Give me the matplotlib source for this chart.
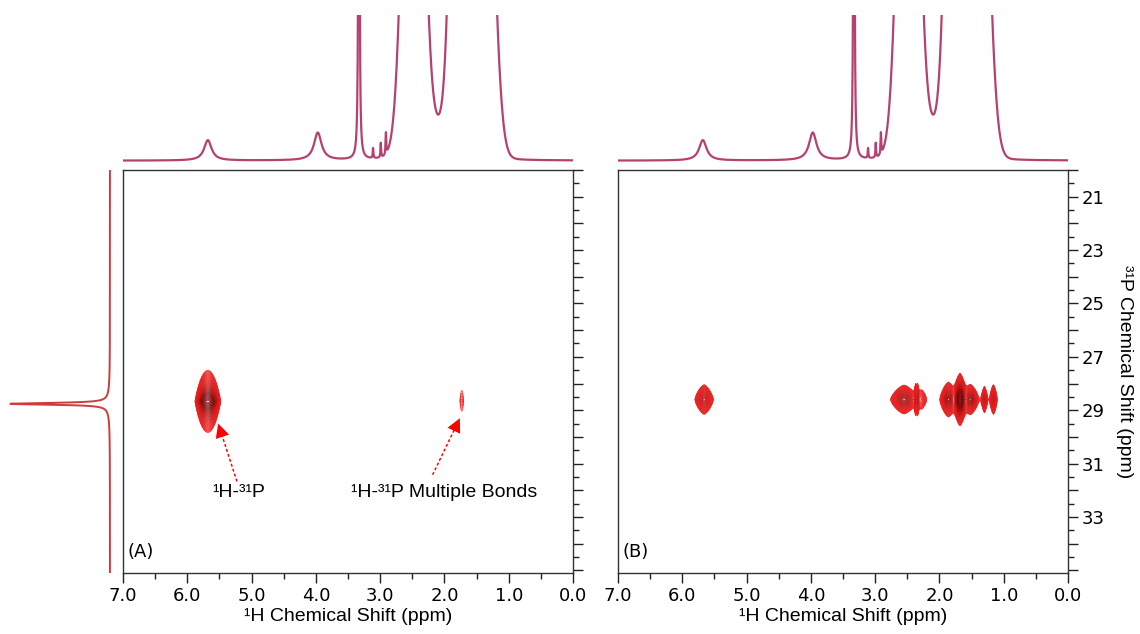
import numpy as np
import matplotlib
matplotlib.use('Agg')
import matplotlib.pyplot as plt
from matplotlib.colors import LinearSegmentedColormap
from matplotlib.ticker import MultipleLocator, FixedLocator

# 1H projection: peak position (ppm), height, half-width, lorentzian fraction
h1_pos = [5.68, 3.97, 3.33, 3.11, 2.99, 2.91, 2.48, 2.07, 1.80, 1.55, 1.35]
h1_height = [0.14, 0.19, 8.0, 0.07, 0.10, 0.15, 4.5, 0.17, 3.0, 4.0, 2.0]
h1_width = [0.07, 0.07, 0.006, 0.006, 0.006, 0.006, 0.133, 0.12, 0.10, 0.15, 0.127]
h1_eta = [1.0, 1.0, 1.0, 1.0, 1.0, 1.0, 0.05, 0.0, 0.05, 0.0, 0.05]

# 31P projection
p31_pos = [28.76, 28.76]
p31_height = [0.96, 0.02]
p31_width = [0.04, 0.5]

# 2D peaks (A): 1H ppm, 31P ppm, widths, height
a_h = [5.68, 1.73]
a_p = [28.67, 28.65]
a_wx = [0.103, 0.052]
a_wy = [0.345, 1.04]
a_amp = [2.26, 0.07]

# 2D peaks (B)
b_h = [5.66, 2.55, 2.37, 2.34, 2.28, 1.86, 1.68, 1.52, 1.30, 1.16]
b_p = [28.6, 28.6, 28.6, 28.6, 28.6, 28.6, 28.6, 28.6, 28.6, 28.6]
b_wx = [0.078, 0.10, 0.016, 0.016, 0.073, 0.064, 0.045, 0.065, 0.032, 0.038]
b_wy = [0.30, 0.256, 0.43, 0.43, 0.32, 0.31, 0.38, 0.27, 0.31, 0.35]
b_amp = [0.54, 0.87, 0.21, 0.21, 0.16, 0.87, 2.26, 0.87, 0.34, 0.34]

x_ticks = [7.0, 6.0, 5.0, 4.0, 3.0, 2.0, 1.0, 0.0]
y_ticks = [21, 23, 25, 27, 29, 31, 33]


def pvoigt(x, x0, h, w, eta):
    lor = 1.0 / (1.0 + ((x - x0) / w) ** 2)
    gau = np.exp(-((x - x0) ** 2) / (2 * w ** 2))
    return h * (eta * lor + (1 - eta) * gau)


def peak2d(X, Y, x0, y0, wx, wy, amp, px, py):
    u = np.abs(X - x0) / wx
    v = np.abs(Y - y0) / wy
    return amp * np.exp(-(u ** px + v ** py))


plt.rcParams['font.family'] = 'DejaVu Sans'
W, H = 1140, 634
fig = plt.figure(figsize=(W / 100, H / 100), dpi=100)

def box(x0, y0, x1, y1):
    return [x0 / W, 1 - y1 / H, (x1 - x0) / W, (y1 - y0) / H]

xs = np.linspace(0, 7, 3000)
spec1h = sum(pvoigt(xs, p, h, w, e) for p, h, w, e in zip(h1_pos, h1_height, h1_width, h1_eta))
ys = np.linspace(20, 35.1, 2000)
spec31p = sum(pvoigt(ys, p, h, w, 1.0) for p, h, w in zip(p31_pos, p31_height, p31_width))

gx = np.linspace(0, 7, 1400)
gy = np.linspace(20, 35.1, 800)
GX, GY = np.meshgrid(gx, gy)
map_a = sum(peak2d(GX, GY, *pk, 2.0, 1.1) for pk in zip(a_h, a_p, a_wx, a_wy, a_amp))
map_b = sum(peak2d(GX, GY, *pk, 1.4, 1.4) for pk in zip(b_h, b_p, b_wx, b_wy, b_amp))

levels = 0.05 * 1.1 ** np.arange(60)
cmap = LinearSegmentedColormap.from_list('nmr', ['#ee2222', '#b00e0e', '#7c0505'])

trace_col = '#b5426e'
label_font = 'Liberation Sans'

for i, (left, data, tag) in enumerate([(123, map_a, '(A)'), (618, map_b, '(B)')]):
    right = left + 450
    # 1H projection above
    top = fig.add_axes(box(left, 15, right, 165))
    top.plot(xs, spec1h, color=trace_col, lw=1.6)
    top.set_xlim(7, 0)
    top.set_ylim(-0.03, 1.0)
    top.axis('off')

    ax = fig.add_axes(box(left, 170, right, 573))
    ax.contour(GX, GY, data, levels=levels, cmap=cmap, linewidths=0.5,
               vmin=0.05, vmax=1.0)
    ax.set_xlim(7, 0)
    ax.set_ylim(35.1, 20)
    ax.xaxis.set_major_locator(FixedLocator(x_ticks))
    ax.xaxis.set_minor_locator(MultipleLocator(0.5))
    ax.set_xticklabels([f'{t:.1f}' for t in x_ticks])
    ax.yaxis.tick_right()
    ax.yaxis.set_major_locator(MultipleLocator(1))
    ax.yaxis.set_minor_locator(MultipleLocator(0.5))
    ax.set_yticklabels([str(int(t)) if int(t) in y_ticks else '' for t in ax.get_yticks()])
    ax.tick_params(axis='both', which='major', length=7, width=1.0, labelsize=13,
                   color='#222222', direction='out', pad=3)
    ax.tick_params(axis='both', which='minor', length=4, width=1.0, color='#222222',
                   direction='out')
    ax.tick_params(axis='y', which='both', labelright=(i == 1), left=False, labelleft=False)
    for s in ax.spines.values():
        s.set_color('#333333')
        s.set_linewidth(1.0)
    ax.set_xlabel('¹H Chemical Shift (ppm)', family=label_font, fontsize=14, labelpad=2)
    ax.text(0.011, 0.03, tag, transform=ax.transAxes, fontsize=13, ha='left', va='bottom')
    if i == 1:
        ax.yaxis.set_label_position('right')
        ax.set_ylabel('³¹P Chemical Shift (ppm)', family=label_font, fontsize=14,
                      rotation=270, labelpad=20)
    else:
        ax_a = ax

# annotations in panel A: dotted shaft plus a solid head
def pointer(ax, tip, tail):
    ax.annotate('', xy=tip, xytext=tail,
                arrowprops=dict(arrowstyle='-', color='#ff0000', lw=1.1,
                                linestyle=(0, (1.2, 2.2)), shrinkA=0, shrinkB=8))
    ax.annotate('', xy=tip, xytext=tail,
                arrowprops=dict(arrowstyle='-|>,head_length=1.0,head_width=0.5',
                                color='#ff0000', lw=0, shrinkA=0, shrinkB=0))

pointer(ax_a, (5.52, 29.5), (5.23, 31.65))
pointer(ax_a, (1.76, 29.3), (2.18, 31.4))
ax_a.text(5.2, 32.1, '¹H-³¹P', family=label_font, fontsize=14, ha='center', va='center')
ax_a.text(2.01, 32.1, '¹H-³¹P Multiple Bonds', family=label_font, fontsize=14,
          ha='center', va='center')

# 31P projection on the left
side = fig.add_axes(box(8, 170, 113, 573))
side.plot(spec31p, ys, color='#d03a3a', lw=1.4)
side.set_xlim(1.0, -0.03)
side.set_ylim(35.1, 20)
side.axis('off')

fig.savefig('out.png', dpi=100)
